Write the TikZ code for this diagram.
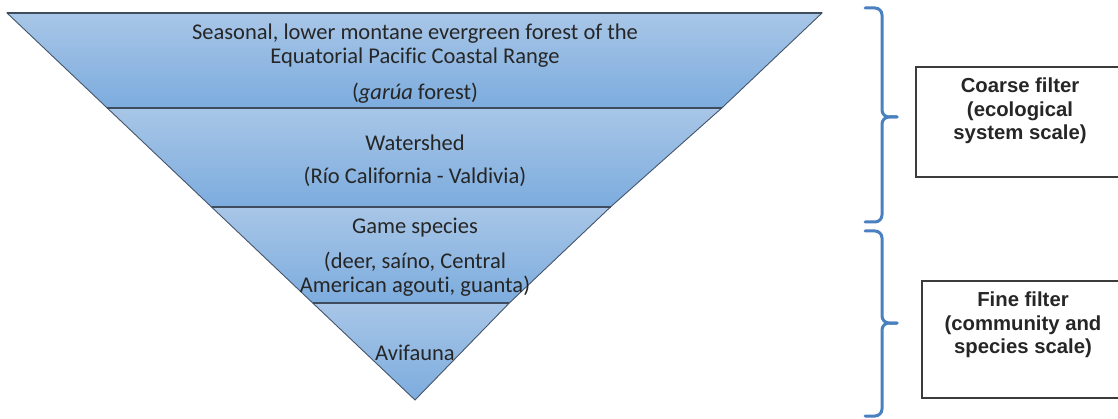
\documentclass[tikz,border=0pt]{standalone}
\usepackage{fontspec}
\setmainfont[Ligatures=NoCommon]{Carlito}
\newfontfamily\boxfont[Ligatures=NoCommon]{Liberation Sans}
\definecolor{bandtop}{RGB}{168,198,231}
\definecolor{bandbot}{RGB}{124,172,222}
\definecolor{edgecol}{RGB}{70,85,105}
\definecolor{bracecol}{RGB}{74,127,192}
\definecolor{txt}{RGB}{38,38,38}
\definecolor{boxline}{RGB}{60,60,60}
\tikzset{
  band/.style={top color=bandtop, bottom color=bandbot, draw=edgecol, line width=0.9pt},
  sep/.style={draw=edgecol!90!black, line width=1.4pt},
  bandtext/.style={text=txt, font=\fontsize{22.5}{24}\selectfont, align=center, inner sep=0pt},
  bracepath/.style={draw=bracecol, line width=3pt, rounded corners=7pt, line cap=round},
  filterbox/.style={draw=boxline, line width=1.2pt, fill=white},
  boxtext/.style={text=txt, font=\boxfont\bfseries\fontsize{20.3}{23.5}\selectfont, align=center, inner sep=0pt}
}
\begin{document}
\begin{tikzpicture}[x=1pt,y=-1pt]
\useasboundingbox (0,0) rectangle (1118,419);
% bands
\shade[band] (7,13) -- (822,13) -- (721.8,108) -- (107.2,108) -- cycle;
\shade[band] (107.2,108) -- (721.8,108) -- (610.5,207) -- (211.5,207) -- cycle;
\shade[band] (211.5,207) -- (610.5,207) -- (509.3,303) -- (312.7,303) -- cycle;
\shade[band] (312.7,303) -- (509.3,303) -- (415,400) -- cycle;
\draw[sep] (7,13) -- (822,13);
\draw[sep] (107.2,108) -- (721.8,108);
\draw[sep] (211.5,207) -- (610.5,207);
\draw[sep] (312.7,303) -- (509.3,303);
% band texts
\node[bandtext] (t1) at (415,45.5) {Seasonal, lower montane evergreen forest of the\\Equatorial Pacific Coastal Range};
\node[bandtext] (t1b) at (415,93) {(\textit{garúa} forest)};
\node[bandtext] (t2) at (415,143) {Watershed};
\node[bandtext] (t2b) at (415,177) {(Río California - Valdivia)};
\node[bandtext] (t3) at (415,228) {Game species};
\node[bandtext] (t3b) at (415,274.5) {(deer, saíno, Central\\American agouti, guanta)};
\node[bandtext] (t4) at (415,353) {Avifauna};
% braces
\draw[bracepath] (865,8) -- (882,8) -- (882,117) -- (897,117);
\draw[bracepath] (897,117) -- (882,117) -- (882,222) -- (865,222);
\draw[bracepath] (865,231) -- (882,231) -- (882,323) -- (897,323);
\draw[bracepath] (897,323) -- (882,323) -- (882,416) -- (865,416);
% boxes
\draw[filterbox] (916,67) rectangle (1121,177);
\node[boxtext] (coarse) at (1020,111) {Coarse filter\\(ecological\\system scale)};
\draw[filterbox] (922,281) rectangle (1121,398);
\node[boxtext] (fine) at (1023,325) {Fine filter\\(community and\\species scale)};
\end{tikzpicture}
\end{document}
